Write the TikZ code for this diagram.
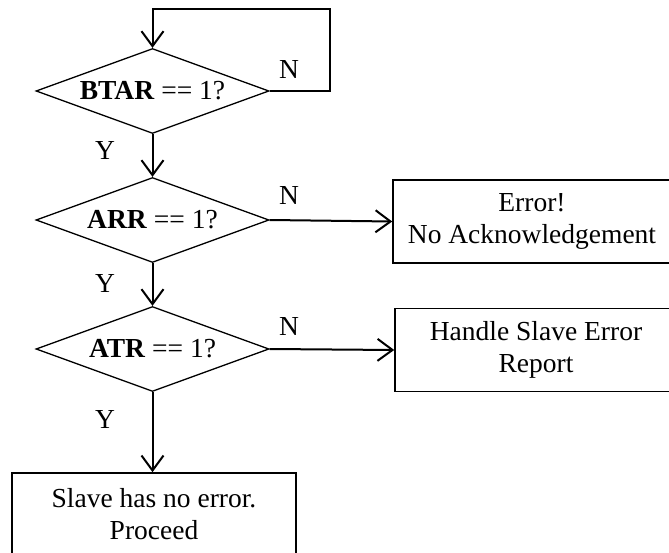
\documentclass[tikz,border=0pt]{standalone}
\usepackage{fontspec}
\setmainfont{Liberation Serif}
\usetikzlibrary{arrows.meta,shapes.geometric,positioning}

\tikzset{
  decision/.style={diamond, draw, line width=1.3pt, minimum width=233pt, minimum height=85pt, inner sep=0pt, aspect=2.7},
  block/.style={rectangle, draw, line width=1.6pt, align=center, minimum height=83pt, inner sep=0pt},
  flow/.style={line width=2pt, -{Straight Barb[length=15pt,width=22pt]}},
  lbl/.style={inner sep=0pt},
}

\begin{document}
\begin{tikzpicture}[x=1pt,y=-1pt,font=\fontsize{27.5}{32}\selectfont]
\path[use as bounding box,clip] (0,0) rectangle (669,553);

% the three tests
\node[decision] (btar) at (152.5,91) {\textbf{BTAR} == 1?};
\node[decision] (arr) at (152.5,220) {\textbf{ARR} == 1?};
\node[decision] (atr) at (152.5,349) {\textbf{ATR} == 1?};

% outcomes
\node[block, minimum width=278pt] (noack) at (532,221.5) {Error!\\No Acknowledgement};
\node[block, minimum width=282pt] (handle) at (536,350) {Handle Slave Error\\Report};
\node[block, minimum width=284pt] (proceed) at (154,514.5) {Slave has no error.\\Proceed};

% wait loop
\coordinate (loop) at (330,9);
\draw[flow] (btar.east) -| (loop) -| (btar.north);

\draw[flow] (btar.south) -- (arr.north);
\draw[flow] (arr.south) -- (atr.north);
\draw[flow] (atr.south) -- (proceed.north -| atr.south);
\draw[flow] (arr.east) -- (noack.west);
\draw[flow] (atr.east) -- (handle.west);

% Y / N
\node[lbl] (n1) at (289,69) {N};
\node[lbl] (y1) at (105,150) {Y};
\node[lbl] (n2) at (289,195) {N};
\node[lbl] (y2) at (105,283) {Y};
\node[lbl] (n3) at (289,326) {N};
\node[lbl] (y3) at (105,419) {Y};
\end{tikzpicture}
\end{document}
